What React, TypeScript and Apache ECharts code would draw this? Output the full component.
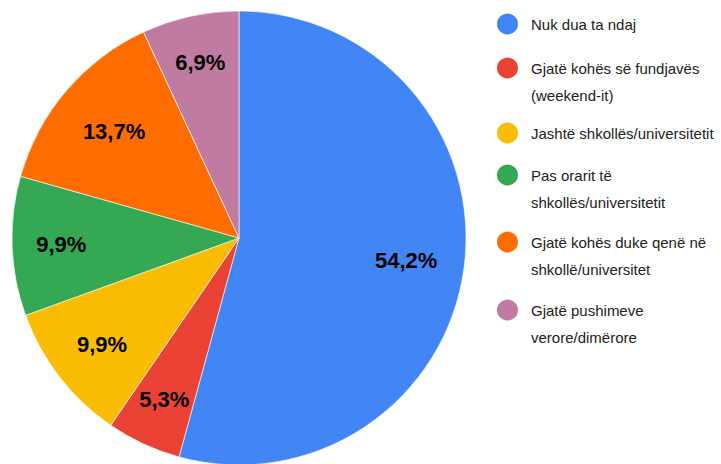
import React, { useEffect, useRef } from "react";
import * as echarts from "echarts";

const categories = [
  "Nuk dua ta ndaj",
  "Gjatë kohës së fundjavës\n(weekend-it)",
  "Jashtë shkollës/universitetit",
  "Pas orarit të\nshkollës/universitetit",
  "Gjatë kohës duke qenë në\nshkollë/universitet",
  "Gjatë pushimeve\nverore/dimërore",
];
const percentages = [54.2, 5.3, 9.9, 9.9, 13.7, 6.9];
const colors = ["#4285f4", "#ea4335", "#fbbc04", "#34a853", "#ff6d01", "#c27ba0"];
const labelRadiusFraction = [0.73, 0.77, 0.75, 0.77, 0.71, 0.78];
const legendIconCenterY = [24, 68, 133, 175, 242, 310];

const CENTER = [239, 238];
const R = 227;
const LINE_H = 27;

export default function App() {
  const ref = useRef<HTMLDivElement>(null);
  useEffect(() => {
    document.body.style.margin = "0";
    const chart = echarts.init(ref.current!, null, { renderer: "svg" });
    const data = categories.map((name, i) => ({
      name,
      value: percentages[i],
      itemStyle: { color: colors[i] },
    }));
    const labelSeries = categories.map((_, k) => {
      const f = labelRadiusFraction[k];
      return {
        type: "pie",
        silent: true,
        center: CENTER,
        radius: [(2 * f - 1) * R, R],
        startAngle: 90,
        clockwise: true,
        legendHoverLink: false,
        avoidLabelOverlap: false,
        itemStyle: { color: "transparent", borderWidth: 0 },
        labelLine: { show: false },
        data: categories.map((name, i) => ({
          name: name + "__lbl" + k,
          value: percentages[i],
          itemStyle: { color: "transparent" },
          label: {
            show: i === k,
            position: "inside",
            formatter: (p: any) => String(p.value).replace(".", ",") + "%",
            color: "#000",
            fontFamily: "'Liberation Sans', Arial, sans-serif",
            fontWeight: "bold",
            fontSize: 22,
          },
        })),
      };
    });
    const legends = categories.map((name, i) => {
      const twoLine = name.includes("\n");
      const c = legendIconCenterY[i];
      return {
        orient: "vertical",
        left: 495,
        top: twoLine ? c - LINE_H * 1.5 : c - LINE_H / 2,
        padding: 0,
        itemWidth: 23,
        itemHeight: 23,
        icon: "circle",
        selectedMode: false,
        data: [name],
        formatter: (n: string) => (n.includes("\n") ? " \n" + n : n),
        textStyle: {
          color: "#222",
          fontSize: 15,
          lineHeight: LINE_H,
          padding: [0, 0, 0, 7],
          fontFamily: "'Liberation Sans', Arial, sans-serif",
        },
      };
    });
    chart.setOption({
      animation: false,
      backgroundColor: "#fff",
      legend: legends,
      series: [
        {
          type: "pie",
          center: CENTER,
          radius: [0, R],
          startAngle: 90,
          clockwise: true,
          avoidLabelOverlap: false,
          label: { show: false },
          labelLine: { show: false },
          itemStyle: { borderColor: "#fff", borderWidth: 0.6 },
          emphasis: { disabled: true },
          data,
        },
        ...labelSeries,
      ],
    });
    return () => chart.dispose();
  }, []);
  return <div ref={ref} style={{ width: 721, height: 464 }} />;
}
